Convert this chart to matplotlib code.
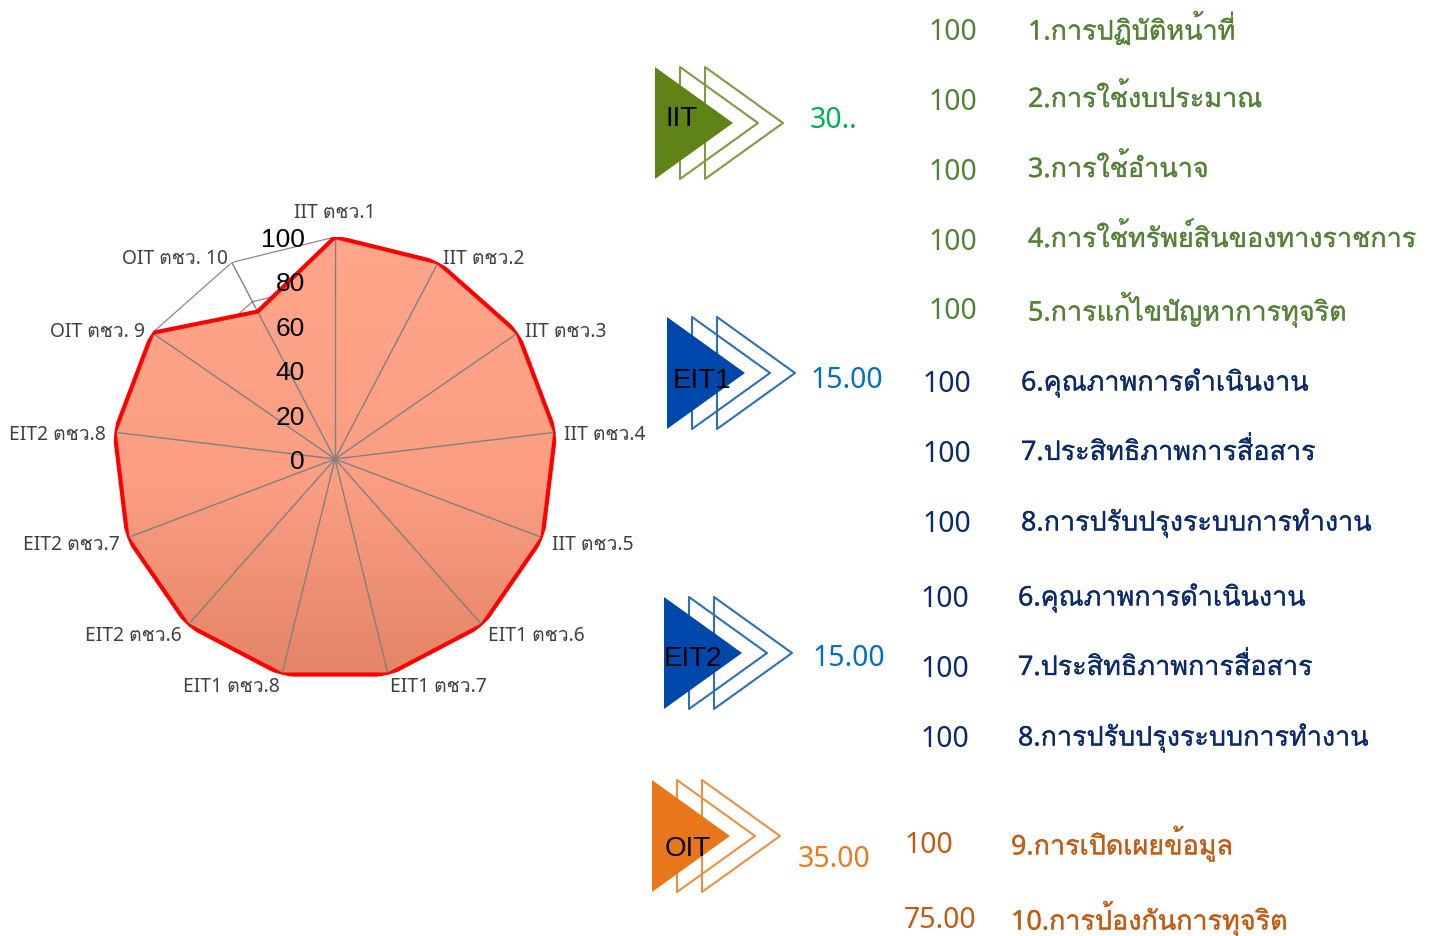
import numpy as np
import matplotlib
matplotlib.use('Agg')
import matplotlib.pyplot as plt
import matplotlib.patheffects as pe
from matplotlib.patches import Polygon

W, H = 1431, 937
TH = ['Noto Sans', 'Loma']
AR = ['Liberation Sans']

axes_labels = ['IIT ตชว.1', 'IIT ตชว.2', 'IIT ตชว.3', 'IIT ตชว.4', 'IIT ตชว.5',
               'EIT1 ตชว.6', 'EIT1 ตชว.7', 'EIT1 ตชว.8',
               'EIT2 ตชว.6', 'EIT2 ตชว.7', 'EIT2 ตชว.8',
               'OIT ตชว. 9', 'OIT ตชว. 10']
axes_values = [100, 100, 100, 100, 100, 100, 100, 100, 100, 100, 100, 100, 75]
r_ticks = [0, 20, 40, 60, 80, 100]

iit_scores = ['100', '100', '100', '100', '100']
iit_items = ['1.การปฏิบัติหน้าที่', '2.การใช้งบประมาณ', '3.การใช้อำนาจ',
             '4.การใช้ทรัพย์สินของทางราชการ', '5.การแก้ไขปัญหาการทุจริต']
eit1_scores = ['100', '100', '100']
eit1_items = ['6.คุณภาพการดำเนินงาน', '7.ประสิทธิภาพการสื่อสาร', '8.การปรับปรุงระบบการทำงาน']
eit2_scores = ['100', '100', '100']
eit2_items = ['6.คุณภาพการดำเนินงาน', '7.ประสิทธิภาพการสื่อสาร', '8.การปรับปรุงระบบการทำงาน']
oit_scores = ['100', '75.00']
oit_items = ['9.การเปิดเผยข้อมูล', '10.การป้องกันการทุจริต']

lab_off = [(0, 25, 'center'), (5, 4, 'left'), (7, 2, 'left'), (9, -2, 'left'), (9, -6, 'left'),
           (6, -10, 'left'), (2, -11, 'left'), (-2, -11, 'right'), (-6, -10, 'right'),
           (-8, -6, 'right'), (-9, -2, 'right'), (-7, 2, 'right'), (-4, 4, 'right')]

fig = plt.figure(figsize=(W / 100, H / 100), dpi=100, facecolor='white')

cx, cy, R = 335, 460, 222
ax = fig.add_axes([(cx - R) / W, (H - cy - R) / H, 2 * R / W, 2 * R / H], projection='polar')
ax.set_theta_zero_location('N')
ax.set_theta_direction(-1)
n = len(axes_labels)
theta = np.arange(n) * 2 * np.pi / n
th_c = np.append(theta, theta[0])
val_c = np.append(axes_values, axes_values[0])

for t in r_ticks[1:]:
    ax.plot(th_c, np.full(n + 1, t), color='#8a8a8a', lw=0.9, zorder=1)
poly = ax.fill(th_c, val_c, facecolor='none', edgecolor='none', zorder=2)[0]
top, mid, bottom = np.array([0xFF, 0xA6, 0x8B]), np.array([0xFB, 0x9E, 0x82]), np.array([0xE4, 0x84, 0x66])
s = np.linspace(0, 1, 256)[:, None, None]
grad = np.where(s < 0.55, top + (mid - top) * s / 0.55, mid + (bottom - mid) * (s - 0.55) / 0.45)
im = ax.imshow(grad.astype(np.uint8), extent=(0, 1, 0, 1), transform=ax.transAxes,
               aspect='auto', zorder=2, interpolation='bilinear')
im.set_clip_path(poly)
for t in theta:
    ax.plot([t, t], [0, 100], color='#808080', lw=1.0, zorder=3)
ax.plot(th_c, val_c, color='#ff0000', lw=3.0, zorder=4, solid_joinstyle='miter')
ax.set_xlim(0, 2 * np.pi)
ax.set_ylim(0, 100)
ax.set_xticks([]); ax.set_yticks([])
ax.grid(False)
ax.spines['polar'].set_visible(False)
ax.patch.set_alpha(0)

for t, lab, (dx, dy, ha) in zip(theta, axes_labels, lab_off):
    ax.annotate(lab, xy=(t, 100), xytext=(dx, dy), textcoords='offset pixels', ha=ha, va='center',
                fontsize=13.9, color='#404040', family=TH, annotation_clip=False, zorder=6)
for v in r_ticks:
    ax.annotate(str(v), xy=(0, v), xytext=(-30, -2), textcoords='offset pixels', ha='right', va='center',
                fontsize=19, color='black', family=AR, annotation_clip=False, zorder=6)

ov = fig.add_axes([0, 0, 1, 1], zorder=5)
ov.set_xlim(0, W); ov.set_ylim(H, 0); ov.axis('off')

def chevrons(left, cyy, fill, line):
    hh, depth, step = 56, 78, 25
    for k in (2, 1):
        x0 = left + k * step
        ov.add_patch(Polygon([(x0, cyy - hh), (x0, cyy + hh), (x0 + depth, cyy)], closed=True,
                             fill=False, edgecolor=line, lw=1.5, joinstyle='round'))
    ov.add_patch(Polygon([(left, cyy - hh), (left, cyy + hh), (left + depth, cyy)], closed=True,
                         facecolor=fill, edgecolor='none'))

chevrons(655, 124, '#5f8316', '#7d9c42')
chevrons(667, 374, '#0047ab', '#2f6eb8')
chevrons(664, 654, '#0047ab', '#2f6eb8')
chevrons(652, 837, '#e8761a', '#ec9040')

for s_, x, y in [('IIT', 666, 119), ('EIT1', 673, 381), ('EIT2', 664, 659), ('OIT', 665, 849)]:
    ov.text(x, y, s_, fontsize=20, family=AR, color='black', va='center', ha='left')

def heavy(txt, color):
    txt.set_path_effects([pe.withStroke(linewidth=0.2, foreground=color)])

for s_, x, y, c in [('30..', 810, 120, '#00b050'), ('15.00', 810, 381, '#0070c0'),
                    ('15.00', 812, 659, '#0070c0'), ('35.00', 798, 860, '#e97b1e')]:
    ov.text(x, y, s_, fontsize=20.5, family=TH, color=c, va='center', ha='left')

def rows(scores, items, xs, xl, ys, color):
    for s_, it, y in zip(scores, items, ys):
        ov.text(xs, y + 3, s_, fontsize=20.5, family=TH, color=color, va='center', ha='left')
        heavy(ov.text(xl - 1, y + 2, it, fontsize=19.4, family=TH, color=color, va='center', ha='left'), color)

rows(iit_scores, iit_items, 928, 1029, [29, 99, 169, 239, 309], '#548235')
rows(eit1_scores, eit1_items, 922, 1022, [382, 452, 522], '#0b2a6b')
rows(eit2_scores, eit2_items, 920, 1019, [597, 667, 737], '#0b2a6b')
rows(oit_scores, oit_items, 904, 1012, [843, 918], '#c55a11')

fig.savefig('out.png', dpi=100)
